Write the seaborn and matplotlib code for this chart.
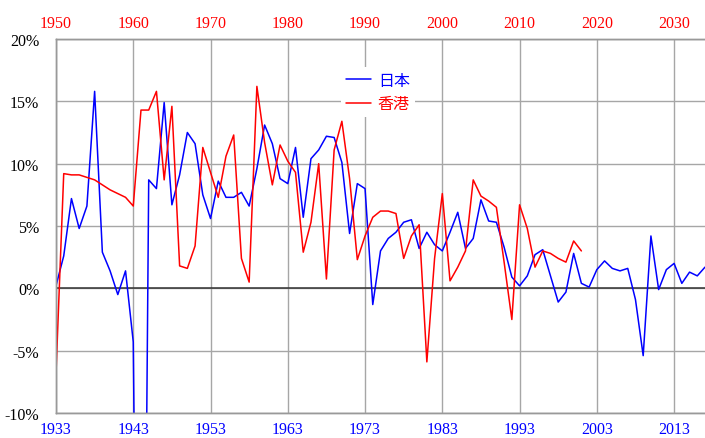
import numpy as np
import pandas as pd
import matplotlib
matplotlib.use("Agg")
import matplotlib.pyplot as plt
import seaborn as sns
from matplotlib.ticker import FuncFormatter

# -------------------------
# Data (real growth, %)
# -------------------------
jp_years = np.arange(1933, 2018)
jp_growth = [
    0.2, 2.6, 7.2, 4.8, 6.6, 15.8, 2.9, 1.4, -0.5, 1.4,      # 1933-1942
    -4.3, -66.0, 8.7, 8.0, 14.9, 6.7, 9.1, 12.5, 11.6, 7.5,  # 1943-1952
    5.6, 8.6, 7.3, 7.3, 7.7, 6.6, 9.6, 13.1, 11.6, 8.8,      # 1953-1962
    8.4, 11.3, 5.7, 10.4, 11.1, 12.2, 12.1, 10.1, 4.4, 8.4,  # 1963-1972
    8.0, -1.3, 3.0, 4.0, 4.5, 5.3, 5.5, 3.2, 4.5, 3.5,       # 1973-1982
    3.0, 4.5, 6.1, 3.2, 4.0, 7.1, 5.4, 5.3, 3.3, 0.9,        # 1983-1992
    0.2, 1.0, 2.7, 3.1, 1.0, -1.1, -0.3, 2.8, 0.4, 0.1,      # 1993-2002
    1.5, 2.2, 1.6, 1.4, 1.6, -0.9, -5.4, 4.2, -0.1, 1.5,     # 2003-2012
    2.0, 0.4, 1.3, 1.0, 1.7,                                 # 2013-2017
]

hk_years = np.arange(1950, 2019)
hk_growth = [
    -6.8, 9.2, 9.1, 9.1, 8.9, 8.7, 8.3, 7.9, 7.6, 7.3,       # 1950-1959
    6.6, 14.3, 14.3, 15.8, 8.7, 14.6, 1.8, 1.6, 3.4, 11.3,   # 1960-1969
    9.3, 7.3, 10.6, 12.3, 2.4, 0.5, 16.2, 11.7, 8.3, 11.5,   # 1970-1979
    10.2, 9.3, 2.9, 5.3, 10.0, 0.75, 11.1, 13.4, 8.8, 2.3,   # 1980-1989
    4.2, 5.7, 6.2, 6.2, 6.0, 2.4, 4.2, 5.1, -5.9, 2.4,       # 1990-1999
    7.6, 0.6, 1.7, 3.0, 8.7, 7.4, 7.0, 6.5, 2.1, -2.5,       # 2000-2009
    6.7, 4.8, 1.7, 3.0, 2.8, 2.4, 2.1, 3.8, 3.0,             # 2010-2018
]

bottom_ticks = list(range(1933, 2018, 10))
top_ticks = list(range(1950, 2031, 10))
y_ticks = [-10, -5, 0, 5, 10, 15, 20]

jp = pd.DataFrame({"year": jp_years, "growth": jp_growth})
hk = pd.DataFrame({"year": hk_years, "growth": hk_growth})

# -------------------------
# Plot
# -------------------------
sns.set_style("white")
plt.rcParams["font.family"] = ["Liberation Serif", "Noto Sans CJK JP", "DejaVu Sans"]

fig = plt.figure(figsize=(7.05, 4.39), dpi=100)
ax = fig.add_axes([56 / 705, 25 / 439, 649 / 705, 374 / 439])
ax2 = ax.twiny()

sns.lineplot(data=jp, x="year", y="growth", ax=ax, color="#0000ff",
             linewidth=1.1, label="日本", legend=False)
sns.lineplot(data=hk, x="year", y="growth", ax=ax2, color="#ff0000",
             linewidth=1.1, label="香港", legend=False)

ax.set_xlim(1933, 2017)
ax2.set_xlim(1950, 2034)
ax.set_ylim(-10, 20)

ax.set_xticks(bottom_ticks)
ax2.set_xticks(top_ticks)
ax.set_yticks(y_ticks)
ax.yaxis.set_major_formatter(FuncFormatter(lambda v, p: f"{int(v)}%"))

ax.grid(True, color="#a6a6a6", linewidth=1.0)
ax2.grid(False)
ax.axhline(0, color="#333333", linewidth=1.1, zorder=1.5)

ax.tick_params(axis="x", length=0, pad=6, labelsize=11.5, labelcolor="#0000ff")
ax.tick_params(axis="y", length=0, pad=12, labelsize=11.5, labelcolor="black")
ax2.tick_params(axis="x", length=0, pad=6, labelsize=11.5, labelcolor="#ff0000")

for a in (ax, ax2):
    for s in a.spines.values():
        s.set_color("#999999")
        s.set_linewidth(1.0)
    a.spines["right"].set_visible(False)
    a.set_xlabel("")
    a.set_ylabel("")

h1, l1 = ax.get_legend_handles_labels()
h2, l2 = ax2.get_legend_handles_labels()
leg = ax2.legend(h1 + h2, l1 + l2, loc="upper left",
                 bbox_to_anchor=(0.427, 0.946), frameon=True,
                 facecolor="white", edgecolor="none", framealpha=1,
                 fancybox=False, handlelength=1.6, handletextpad=0.4,
                 labelspacing=0.4, borderpad=0.3,
                 prop={"family": ["Noto Sans CJK JP"], "size": 11.5})
for text, c in zip(leg.get_texts(), ["#0000ff", "#ff0000"]):
    text.set_color(c)

plt.savefig("out.png", dpi=100)
